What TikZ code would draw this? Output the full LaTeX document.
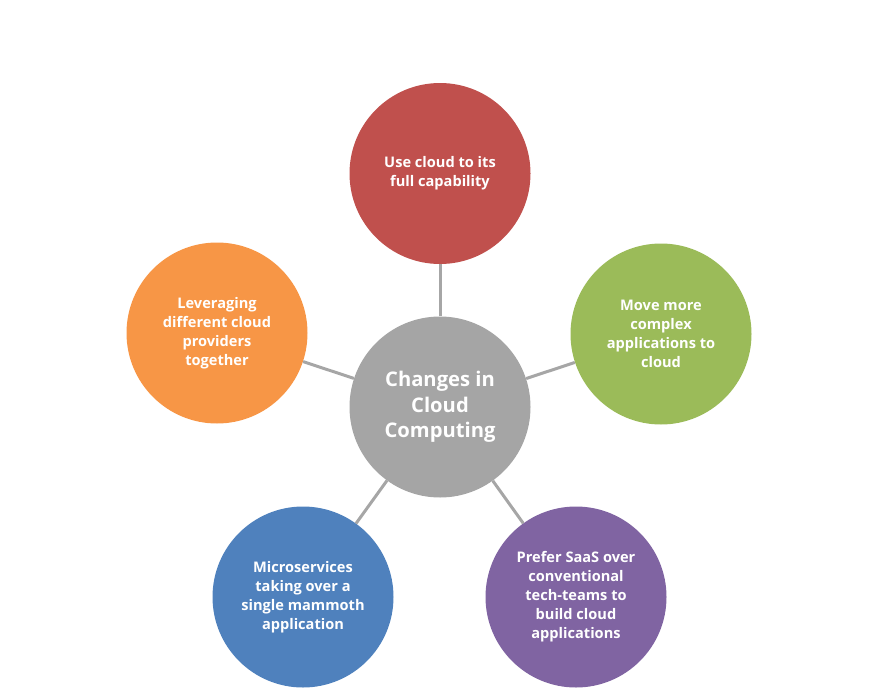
\documentclass[tikz,border=0pt]{standalone}
\usepackage{fontspec}
\setmainfont{Open Sans}
\definecolor{cred}{HTML}{C0504D}
\definecolor{cgreen}{HTML}{9BBB59}
\definecolor{corange}{HTML}{F79646}
\definecolor{cblue}{HTML}{4F81BD}
\definecolor{cpurple}{HTML}{8064A2}
\definecolor{cgray}{HTML}{A5A5A5}
\definecolor{cline}{HTML}{A6A6A6}
\tikzset{
  bubble/.style={circle, minimum size=181pt, inner sep=0pt, text=white, align=center,
    font=\bfseries\fontsize{14.6}{19}\selectfont},
  hub/.style={bubble, fill=cgray, font=\bfseries\fontsize{20.2}{25.5}\selectfont},
  link/.style={draw=cline, line width=3pt}
}
\begin{document}
\begin{tikzpicture}[x=1pt,y=-1pt]
\useasboundingbox (0,0) rectangle (886,696);
\node[hub] (c) at (440,407) {Changes in\\Cloud\\Computing};
\node[bubble, fill=cred] (t) at (440,173.5) {Use cloud to its\\full capability};
\node[bubble, fill=cgreen] (r) at (661,334) {Move more\\complex\\applications to\\cloud};
\node[bubble, fill=corange] (l) at (217,333) {Leveraging\\different cloud\\providers\\together};
\node[bubble, fill=cblue] (bl) at (303,597) {Microservices\\taking over a\\single mammoth\\application};
\node[bubble, fill=cpurple] (br) at (576,597) {Prefer SaaS over\\conventional\\tech-teams to\\build cloud\\applications};
\foreach \n in {t,r,l,bl,br} { \draw[link] (c) -- (\n); }
\end{tikzpicture}
\end{document}
